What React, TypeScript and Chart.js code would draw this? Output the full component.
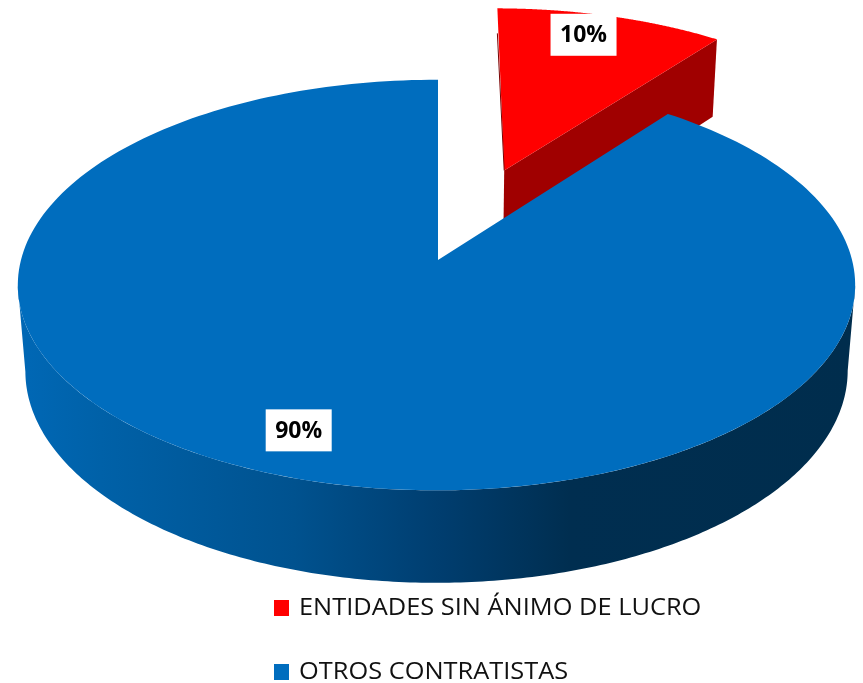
import React, { useEffect, useRef } from "react";
import { Chart, registerables } from "chart.js";

Chart.register(...registerables);

const categories = ["ENTIDADES SIN ÁNIMO DE LUCRO", "OTROS CONTRATISTAS"];
const values = [10.4, 89.6];
const topColors = ["#FF0000", "#006DBE"];

const PERSPECTIVE = 0.122;
const LATERAL = 0.0036;
const X_SCALE = 1.993;
const Y_SCALE = 0.97;
const DEPTH = 87;
const DEPTH_W = 0.018;
const EXPLODE = 103;

const labelNudge = [
  { x: -10, y: -7 },
  { x: -20, y: -1 },
];

const pieFx = {
  id: "pieFx",
  beforeDatasetsDraw(chart: any) {
    const ctx: CanvasRenderingContext2D = chart.ctx;
    const arcs = chart.getDatasetMeta(0).data;
    const first = arcs[0];
    const cx = first.x;
    const cy = first.y;
    const rad = first.outerRadius;
    const R = rad * X_SCALE;
    const S = rad * Y_SCALE;

    const project = (u: number, v: number, lower: boolean) => {
      const w = 1 - PERSPECTIVE * v + LATERAL * u + (lower ? DEPTH_W : 0);
      return {
        x: cx + (R * u) / w,
        y: cy + (S * v + (lower ? DEPTH : 0)) / w,
      };
    };
    // angle measured clockwise from twelve o'clock
    const toClock = (a: number) => a + Math.PI / 2;
    const ring = (a: number, ox: number, oy: number, r: number, lower: boolean) =>
      project(ox + r * Math.sin(a), oy - r * Math.cos(a), lower);
    const poly = (pts: { x: number; y: number }[], fill: string | CanvasGradient) => {
      ctx.beginPath();
      pts.forEach((p, i) => (i ? ctx.lineTo(p.x, p.y) : ctx.moveTo(p.x, p.y)));
      ctx.closePath();
      ctx.fillStyle = fill;
      ctx.fill();
    };
    const sweep = (a0: number, a1: number, ox: number, oy: number, lower: boolean) => {
      const pts = [];
      const n = 240;
      for (let i = 0; i <= n; i++) pts.push(ring(a0 + ((a1 - a0) * i) / n, ox, oy, 1, lower));
      return pts;
    };

    ctx.save();

    // exploded slice
    const red = arcs[0];
    const redA0 = toClock(red.startAngle);
    const redA1 = toClock(red.endAngle);
    const mid = (redA0 + redA1) / 2;
    const d = red.options.offset / rad;
    const ox = d * Math.sin(mid) + 0.01;
    const oy = -d * Math.cos(mid);
    const redApexT = project(ox, oy, false);
    const redApexB = project(ox, oy, true);
    const redCorner = ring(redA0, ox, oy, 1, false);
    poly([redApexT, ring(redA1, ox, oy, 1, false), ring(redA1, ox, oy, 1, true), redApexB], "#A00000");
    poly([redApexT, ...sweep(redA0, redA1, ox, oy, false)], red.options.backgroundColor);
    ctx.beginPath();
    ctx.moveTo(redCorner.x, redCorner.y + 25);
    ctx.lineTo(redApexT.x, redApexT.y);
    ctx.strokeStyle = "#7A0000";
    ctx.lineWidth = 1;
    ctx.stroke();

    // main slice: rim with horizontal shading, then the top face
    const blue = arcs[1];
    const a0 = toClock(blue.startAngle);
    const a1 = toClock(blue.endAngle);
    const grad = ctx.createLinearGradient(17, 0, 855, 0);
    grad.addColorStop(0, "#0068B6");
    grad.addColorStop(0.1, "#0061A8");
    grad.addColorStop(0.33, "#00528F");
    grad.addColorStop(0.5, "#003E70");
    grad.addColorStop(0.66, "#002E50");
    grad.addColorStop(1, "#002D4D");
    const front0 = Math.PI / 2 + 0.122;
    const front1 = (3 * Math.PI) / 2 - 0.122;
    poly(
      [...sweep(front0, front1, 0, 0, false), ...sweep(front1, front0, 0, 0, true)],
      grad
    );
    poly([project(0, 0, false), ...sweep(a0, a1, 0, 0, false)], blue.options.backgroundColor);

    // value labels
    const total = values.reduce((s, v) => s + v, 0);
    ctx.font = "bold 23px 'Open Sans', sans-serif";
    ctx.textAlign = "center";
    ctx.textBaseline = "middle";
    const anchors = [
      ring(mid, ox, oy, 0.82, false),
      ring((a0 + a1) / 2, 0, 0, 0.81, false),
    ];
    anchors.forEach((p, i) => {
      const x = p.x + labelNudge[i].x;
      const y = p.y + labelNudge[i].y;
      ctx.fillStyle = "#FFFFFF";
      ctx.fillRect(x - 33, y - 21, 66, 42);
      ctx.fillStyle = "#000000";
      const text = `${Math.round((values[i] / total) * 100)}%`;
      ctx.fillText(text, x, y + 1);
    });

    // legend
    const legendLeft = 274;
    const legendFirst = 608;
    const legendStep = 64;
    ctx.font = "24px 'Open Sans', sans-serif";
    ctx.textAlign = "left";
    categories.forEach((name, i) => {
      const y = legendFirst + i * legendStep;
      ctx.fillStyle = topColors[i];
      ctx.fillRect(legendLeft, y - 8, 15, 16);
      ctx.fillStyle = "#111111";
      ctx.save();
      ctx.translate(legendLeft + 25, y);
      ctx.scale(1.058, 1);
      ctx.fillText(name, 0, 0);
      ctx.restore();
    });

    ctx.restore();
    return false;
  },
};

export default function App() {
  const ref = useRef<HTMLCanvasElement>(null);
  useEffect(() => {
    document.body.style.margin = "0";
    const chart = new Chart(ref.current!, {
      type: "pie",
      data: {
        labels: categories,
        datasets: [
          {
            data: values,
            backgroundColor: topColors,
            borderWidth: 0,
            offset: [EXPLODE, 0],
          },
        ],
      },
      options: {
        responsive: false,
        animation: false,
        events: [],
        layout: { padding: { left: 13, right: 0, top: 0, bottom: 163 } },
        plugins: { legend: { display: false }, tooltip: { enabled: false }, title: { display: false } },
      },
      plugins: [pieFx],
    } as any);
    return () => chart.destroy();
  }, []);
  return (
    <canvas
      ref={ref}
      width={863}
      height={683}
      style={{ position: "absolute", left: 0, top: 0, width: 863, height: 683 }}
    />
  );
}
